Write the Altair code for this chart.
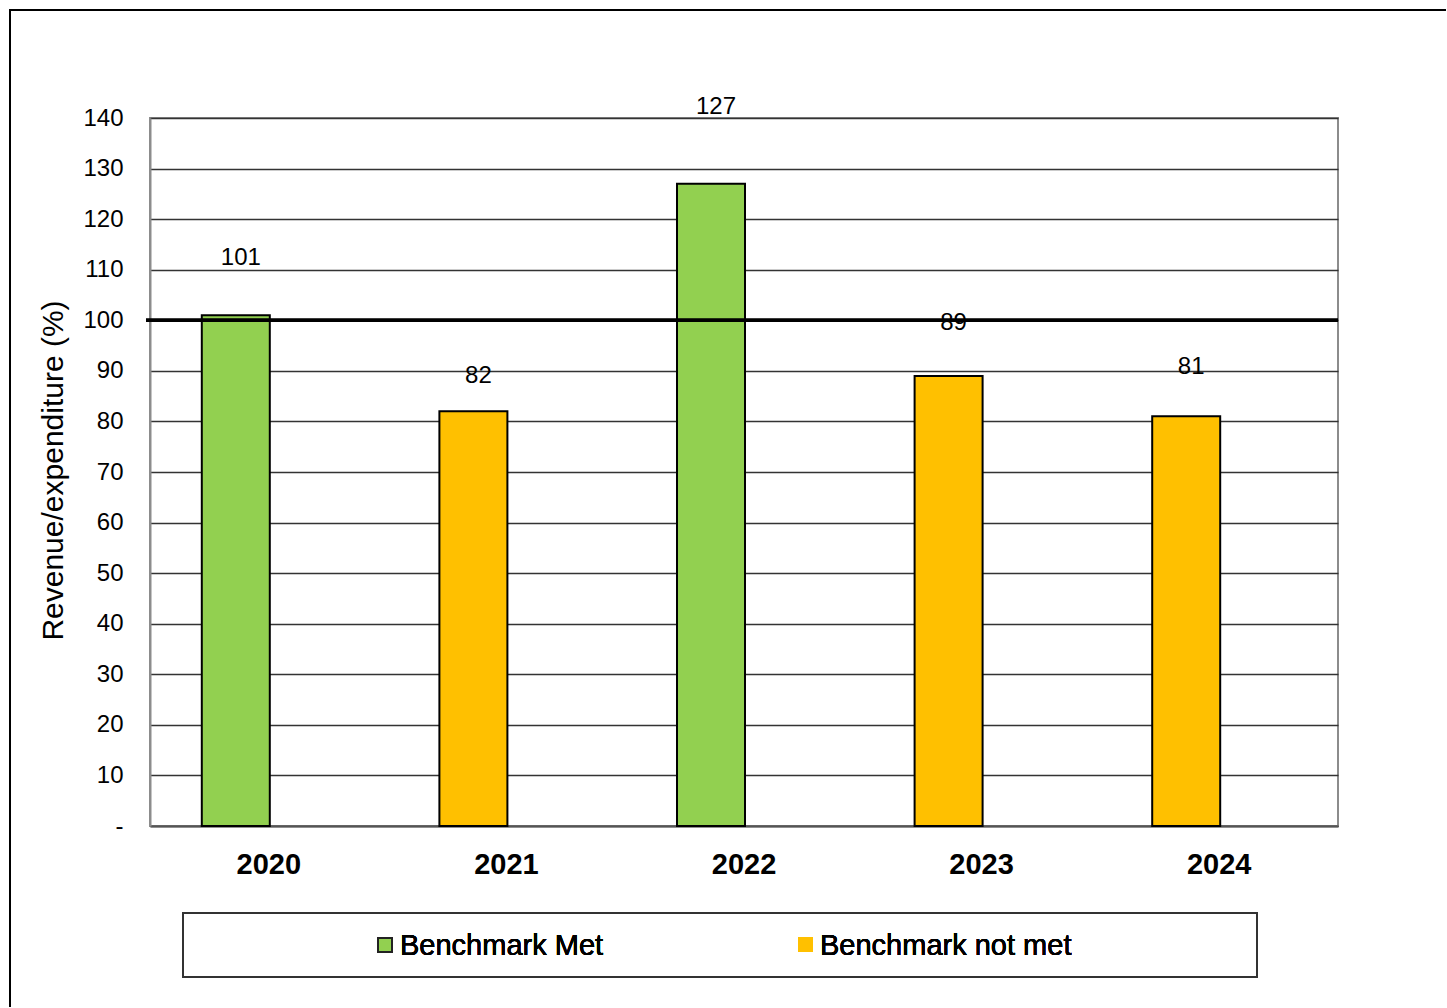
import altair as alt
import pandas as pd

# ---- data ----
years = ["2020", "2021", "2022", "2023", "2024"]
values = [101, 82, 127, 89, 81]
status = ["Benchmark Met", "Benchmark not met", "Benchmark Met",
          "Benchmark not met", "Benchmark not met"]
label_pos = [112.3, 89.0, 142.2, 99.5, 90.8]   # where each value label sits (data units)
benchmark = 100
y_ticks = [0, 10, 20, 30, 40, 50, 60, 70, 80, 90, 100, 110, 120, 130, 140]
legend_labels = ["Benchmark Met", "Benchmark not met"]
legend_colors = ["#92D050", "#FFC000"]

df = pd.DataFrame({"year": years, "value": values, "status": status,
                   "label_y": label_pos})

FONT = "Liberation Sans"
W, H = 1188, 708

x_enc = alt.X("year:N", sort=years,
              scale=alt.Scale(paddingInner=0, paddingOuter=0),
              axis=alt.Axis(title=None, labelAngle=0, labelFont=FONT,
                            labelFontSize=29, labelFontWeight="bold",
                            labelColor="black", labelPadding=24, ticks=False,
                            domainColor="#555555", domainWidth=2))
y_scale = alt.Scale(domain=[0, 140], nice=False, zero=True)

bars = alt.Chart(df).mark_bar(width=68, xOffset=-33, stroke="black",
                              strokeWidth=2).encode(
    x=x_enc,
    y=alt.Y("value:Q", scale=y_scale,
            axis=alt.Axis(title="Revenue/expenditure  (%)", values=y_ticks,
                          labelExpr="datum.value == 0 ? '-' : datum.label",
                          labelFont=FONT, labelFontSize=24, labelColor="black",
                          labelPadding=27, ticks=False, grid=True,
                          gridColor="#333333", gridWidth=1.3,
                          domainColor="#8c8c8c", domainWidth=2,
                          titleFont=FONT, titleFontSize=30,
                          titleFontWeight="normal", titleColor="black",
                          titleX=-97, titleY=352, titleAngle=-90,
                          titleAlign="center", titleBaseline="middle")),
    color=alt.Color("status:N",
                    scale=alt.Scale(domain=legend_labels, range=legend_colors),
                    legend=None),
)

labels = alt.Chart(df).mark_text(xOffset=-28, baseline="middle", font=FONT,
                                 fontSize=24, color="black").encode(
    x=alt.X("year:N", sort=years),
    y=alt.Y("label_y:Q", scale=y_scale),
    text=alt.Text("value:Q"),
)

bench = alt.Chart(df).mark_rule(color="black", strokeWidth=3).encode(
    y=alt.datum(benchmark),
    x=alt.value(-4), x2=alt.value(W),
)

# outer chart frame (right/bottom edges fall outside the page, as in the reference)
frame = alt.Chart(df).mark_rect(fill=None, stroke="black", strokeWidth=1.5).encode(
    x=alt.value(-140), x2=alt.value(1400), y=alt.value(-108), y2=alt.value(1000)
)

# legend box and items
leg_box = alt.Chart(df).mark_rect(fill=None, stroke="#333333", strokeWidth=1.5).encode(
    x=alt.value(33), x2=alt.value(1107), y=alt.value(795), y2=alt.value(859)
)
leg_sq1 = alt.Chart(df).mark_rect(fill=legend_colors[0], stroke="#222222",
                                  strokeWidth=2).encode(
    x=alt.value(228), x2=alt.value(242), y=alt.value(820), y2=alt.value(834)
)
leg_sq2 = alt.Chart(df).mark_rect(fill=legend_colors[1]).encode(
    x=alt.value(648), x2=alt.value(663), y=alt.value(819), y2=alt.value(834)
)
leg_t1 = alt.Chart(df).mark_text(align="left", baseline="alphabetic", font=FONT,
                                 fontSize=29, color="black").encode(
    x=alt.value(250), y=alt.value(837), text=alt.value(legend_labels[0])
)
leg_t2 = alt.Chart(df).mark_text(align="left", baseline="alphabetic", font=FONT,
                                 fontSize=29, color="black").encode(
    x=alt.value(670), y=alt.value(837), text=alt.value(legend_labels[1])
)

chart = alt.layer(frame, bars, bench, labels, leg_box, leg_sq1, leg_sq2,
                  leg_t1, leg_t2).properties(
    width=W, height=H,
    autosize=alt.AutoSizeParams(type="none"),
    padding={"left": 150, "top": 118, "right": 108, "bottom": 181},
    background="white",
).configure_view(stroke="#8c8c8c", strokeWidth=2)

chart.save("out.html", embed_options={"renderer": "svg", "actions": False})
